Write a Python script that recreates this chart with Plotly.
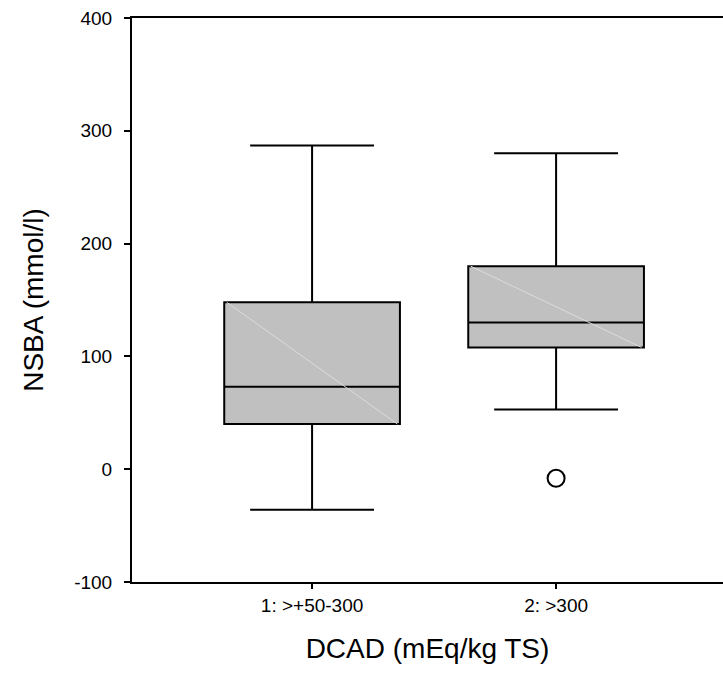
import plotly.graph_objects as go

categories = ["1: >+50-300", "2: >300"]
lower_whisker = [-36, 53]
q1 = [40, 108]
median = [73, 130]
q3 = [148, 180]
upper_whisker = [287, 280]
outlier_cat = ["2: >300"]
outlier_val = [-8]

y_ticks = [-100, 0, 100, 200, 300, 400]
y_ticktext = ["-100", "0", "100", "200", "300", "400"]

box_w = 0.72
font = "Liberation Sans, Arial, sans-serif"

fig = go.Figure()
for i, c in enumerate(categories):
    fig.add_trace(go.Box(
        x=[c], q1=[q1[i]], median=[median[i]], q3=[q3[i]],
        lowerfence=[lower_whisker[i]], upperfence=[upper_whisker[i]],
        width=box_w, whiskerwidth=0.705,
        fillcolor="#c0c0c0", line=dict(color="black", width=2),
        boxpoints=False, hoverinfo="skip", showlegend=False,
    ))

# faint diagonal artefact across each box
for i, c in enumerate(categories):
    fig.add_trace(go.Scatter(
        x=[i - box_w / 2 + 0.01, i + box_w / 2 - 0.01], y=[q3[i], q1[i]],
        mode="lines", line=dict(color="#dcdcdc", width=1),
        xaxis="x2", showlegend=False, hoverinfo="skip",
    ))

fig.add_trace(go.Scatter(
    x=outlier_cat, y=outlier_val, mode="markers",
    marker=dict(symbol="circle-open", size=17, color="black", line=dict(width=2)),
    showlegend=False, hoverinfo="skip",
))

xr = [-0.738, 1.684]
fig.update_layout(
    width=723, height=690,
    margin=dict(l=132, r=0, t=18, b=108),
    paper_bgcolor="white", plot_bgcolor="white",
    font=dict(family=font, color="black"),
    xaxis=dict(
        type="category", categoryorder="array", categoryarray=categories,
        range=xr, showline=True, mirror=True, linecolor="black", linewidth=2,
        ticks="outside", ticklen=5, tickwidth=2, tickcolor="black",
        showgrid=False, zeroline=False,
        tickfont=dict(size=19, family=font),
        title=dict(text="DCAD (mEq/kg TS)", font=dict(size=28, family=font), standoff=24),
    ),
    xaxis2=dict(range=xr, overlaying="x", visible=False),
    yaxis=dict(
        range=[-100, 400], tickvals=y_ticks, ticktext=y_ticktext,
        showline=True, linecolor="black", linewidth=2,
        ticks="outside", ticklen=6, tickwidth=2, tickcolor="black",
        showgrid=False, zeroline=False,
        tickfont=dict(size=19, family=font),
        ticklabelstandoff=8,
        title=dict(text="NSBA (mmol/l)", font=dict(size=28, family=font), standoff=22),
    ),
)

fig.write_html("out.html")
